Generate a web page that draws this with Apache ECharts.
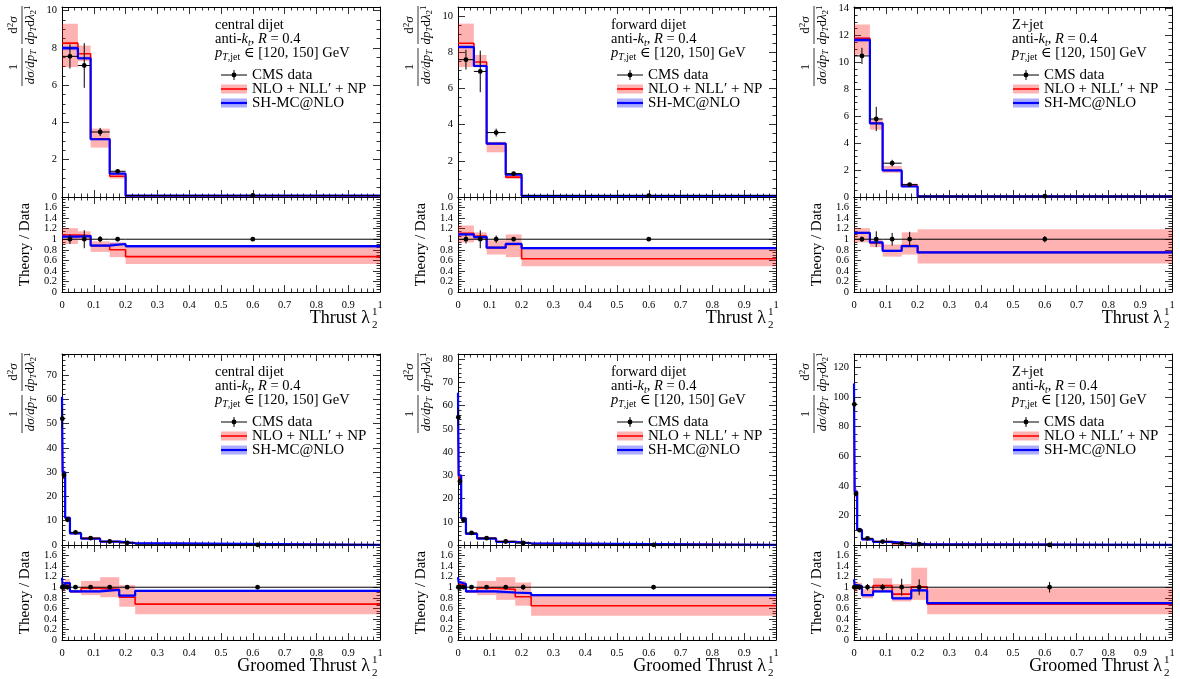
<!DOCTYPE html>
<html><head><meta charset="utf-8">
<script src="https://cdn.jsdelivr.net/npm/echarts@6/dist/echarts.min.js"></script>
<style>html,body{margin:0;padding:0;background:#fff}#c{width:1180px;height:679px}</style>
</head><body><div id="c"></div><script>
// ---------------- DATA ----------------
const thrustEdges  = [0, 0.05, 0.09, 0.15, 0.2, 1];
const groomedEdges = [0, 0.002, 0.01, 0.025, 0.06, 0.12, 0.18, 0.23, 1];

// central dijet, thrust
const cT_data   = [7.55, 7.06, 3.49, 1.38, 0.08];
const cT_err    = [0.65, 1.2, 0.22, 0.07, 0.004];
const cT_nlo    = [8.26, 7.69, 3.13, 1.11, 0.053];
const cT_nloLo  = [6.97, 7.29, 2.65, 0.99, 0.042];
const cT_nloHi  = [9.3, 8.13, 3.67, 1.34, 0.07];
const cT_mc     = [7.99, 7.45, 3.10, 1.25, 0.069];
const cT_mcLo   = [7.88, 7.37, 3.05, 1.22, 0.067];
const cT_mcHi   = [8.10, 7.53, 3.15, 1.28, 0.071];
const cT_rNlo   = [1.08, 1.07, 0.88, 0.80, 0.67];
const cT_rNloLo = [0.91, 0.98, 0.76, 0.66, 0.53];
const cT_rNloHi = [1.21, 1.15, 0.96, 0.94, 0.88];
const cT_rMc    = [1.05, 1.06, 0.88, 0.91, 0.87];
const cT_rMcLo  = [1.03, 1.04, 0.86, 0.89, 0.84];
const cT_rMcHi  = [1.07, 1.08, 0.90, 0.93, 0.89];
const cT_rErr   = [0.09, 0.17, 0.06, 0.04, 0.02];

// forward dijet, thrust
const fT_data   = [7.59, 6.94, 3.56, 1.29, 0.08];
const fT_err    = [0.55, 1.15, 0.22, 0.06, 0.004];
const fT_nlo    = [8.5, 7.46, 2.95, 1.10, 0.05];
const fT_nloLo  = [7.18, 7.2, 2.47, 1.0, 0.039];
const fT_nloHi  = [9.58, 7.85, 3.05, 1.25, 0.066];
const fT_mc     = [8.29, 7.24, 2.95, 1.24, 0.066];
const fT_mcLo   = [8.2, 7.17, 2.9, 1.21, 0.064];
const fT_mcHi   = [8.38, 7.31, 3.0, 1.27, 0.068];
const fT_rNlo   = [1.11, 1.06, 0.84, 0.90, 0.63];
const fT_rNloLo = [0.94, 0.98, 0.71, 0.66, 0.49];
const fT_rNloHi = [1.26, 1.13, 0.98, 1.09, 0.82];
const fT_rMc    = [1.09, 1.04, 0.84, 0.91, 0.83];
const fT_rMcLo  = [1.07, 1.02, 0.82, 0.89, 0.81];
const fT_rMcHi  = [1.11, 1.06, 0.86, 0.93, 0.85];
const fT_rErr   = [0.08, 0.17, 0.07, 0.04, 0.02];

// Z+jet, thrust
const zT_data   = [10.47, 5.79, 2.51, 0.92, 0.06];
const zT_err    = [0.6, 0.9, 0.25, 0.07, 0.004];
const zT_nlo    = [11.78, 5.47, 1.97, 0.81, 0.045];
const zT_nloLo  = [10.55, 5.0, 1.8, 0.73, 0.032];
const zT_nloHi  = [12.8, 5.8, 2.3, 1.0, 0.071];
const zT_mc     = [11.66, 5.47, 1.97, 0.78, 0.045];
const zT_mcLo   = [11.5, 5.4, 1.93, 0.76, 0.043];
const zT_mcHi   = [11.85, 5.54, 2.01, 0.80, 0.047];
const zT_rNlo   = [1.12, 0.93, 0.78, 0.88, 0.75];
const zT_rNloLo = [0.94, 0.85, 0.67, 0.71, 0.54];
const zT_rNloHi = [1.21, 1.0, 0.9, 1.13, 1.19];
const zT_rMc    = [1.12, 0.94, 0.78, 0.87, 0.75];
const zT_rMcLo  = [1.10, 0.92, 0.76, 0.85, 0.73];
const zT_rMcHi  = [1.14, 0.96, 0.80, 0.89, 0.77];
const zT_rErr   = [0.05, 0.15, 0.12, 0.14, 0.06];

// central dijet, groomed thrust
const cG_data   = [52, 28.8, 10.4, 5.2, 2.8, 1.45, 0.88, 0.08];
const cG_err    = [4, 1.6, 0.45, 0.15, 0.08, 0.05, 0.03, 0.004];
const cG_nlo    = [54, 28.8, 11.0, 4.8, 2.74, 1.39, 0.71, 0.055];
const cG_nloLo  = [48, 26.8, 10.0, 4.63, 2.38, 1.17, 0.55, 0.04];
const cG_nloHi  = [57, 31.1, 12.0, 4.95, 3.14, 1.73, 0.92, 0.074];
const cG_mc     = [61, 29.9, 11.2, 4.8, 2.58, 1.38, 0.74, 0.074];
const cG_mcLo   = [60, 29.3, 11.0, 4.7, 2.53, 1.35, 0.72, 0.072];
const cG_mcHi   = [62, 30.5, 11.4, 4.9, 2.63, 1.41, 0.76, 0.076];
const cG_rNlo   = [1.03, 1.0, 1.06, 0.92, 0.98, 0.96, 0.81, 0.68];
const cG_rNloLo = [0.92, 0.93, 0.96, 0.89, 0.85, 0.81, 0.63, 0.49];
const cG_rNloHi = [1.1, 1.08, 1.15, 0.95, 1.12, 1.19, 1.04, 0.92];
const cG_rMc    = [1.18, 1.04, 1.08, 0.92, 0.92, 0.95, 0.84, 0.93];
const cG_rMcLo  = [1.16, 1.02, 1.06, 0.90, 0.90, 0.93, 0.82, 0.91];
const cG_rMcHi  = [1.20, 1.06, 1.10, 0.94, 0.94, 0.97, 0.86, 0.95];
const cG_rErr   = [0.08, 0.05, 0.04, 0.03, 0.03, 0.03, 0.03, 0.04];

// forward dijet, groomed thrust
const fG_data   = [55, 27.4, 10.8, 5.2, 2.95, 1.5, 0.85, 0.08];
const fG_err    = [4, 1.6, 0.45, 0.15, 0.08, 0.05, 0.05, 0.004];
const fG_nlo    = [57.8, 28.8, 11.4, 4.8, 2.9, 1.44, 0.70, 0.052];
const fG_nloLo  = [51, 26.3, 10.6, 4.63, 2.5, 1.14, 0.55, 0.037];
const fG_nloHi  = [61.6, 30.7, 12.1, 4.95, 3.3, 1.79, 0.93, 0.07];
const fG_mc     = [65.5, 29.9, 11.5, 4.8, 2.71, 1.35, 0.76, 0.068];
const fG_mcLo   = [64.4, 29.3, 11.3, 4.7, 2.66, 1.32, 0.74, 0.066];
const fG_mcHi   = [66.6, 30.5, 11.7, 4.9, 2.76, 1.38, 0.78, 0.070];
const fG_rNlo   = [1.05, 1.05, 1.06, 0.92, 0.98, 0.96, 0.82, 0.65];
const fG_rNloLo = [0.93, 0.96, 0.98, 0.89, 0.85, 0.76, 0.65, 0.46];
const fG_rNloHi = [1.12, 1.12, 1.12, 0.95, 1.12, 1.19, 1.09, 0.87];
const fG_rMc    = [1.19, 1.09, 1.06, 0.92, 0.92, 0.90, 0.89, 0.85];
const fG_rMcLo  = [1.17, 1.07, 1.04, 0.90, 0.90, 0.88, 0.87, 0.83];
const fG_rMcHi  = [1.21, 1.11, 1.08, 0.94, 0.94, 0.92, 0.91, 0.87];
const fG_rErr   = [0.08, 0.05, 0.04, 0.03, 0.03, 0.03, 0.05, 0.04];

// Z+jet, groomed thrust
const zG_data   = [95, 34.6, 10.0, 4.5, 2.3, 1.1, 0.6, 0.07];
const zG_err    = [5, 1.5, 0.5, 0.27, 0.14, 0.17, 0.09, 0.007];
const zG_nlo    = [98, 35.3, 10.2, 3.8, 2.37, 0.96, 0.61, 0.048];
const zG_nloLo  = [86, 31.8, 9.5, 3.55, 2.1, 0.80, 0.46, 0.034];
const zG_nloHi  = [106, 38.1, 10.8, 4.3, 2.7, 1.17, 0.82, 0.069];
const zG_mc     = [109, 36, 10.2, 3.8, 2.1, 0.87, 0.56, 0.049];
const zG_mcLo   = [107, 35.3, 10.0, 3.7, 2.05, 0.85, 0.55, 0.047];
const zG_mcHi   = [111, 36.7, 10.4, 3.9, 2.15, 0.89, 0.57, 0.051];
const zG_rNlo   = [1.03, 1.02, 1.02, 0.85, 1.03, 0.87, 1.01, 0.68];
const zG_rNloLo = [0.9, 0.92, 0.95, 0.79, 0.92, 0.73, 0.76, 0.49];
const zG_rNloHi = [1.12, 1.1, 1.08, 0.96, 1.17, 1.06, 1.37, 0.98];
const zG_rMc    = [1.15, 1.04, 1.02, 0.85, 0.92, 0.79, 0.94, 0.70];
const zG_rMcLo  = [1.13, 1.02, 1.0, 0.83, 0.90, 0.77, 0.92, 0.68];
const zG_rMcHi  = [1.17, 1.06, 1.04, 0.87, 0.94, 0.81, 0.96, 0.72];
const zG_rErr   = [0.05, 0.04, 0.05, 0.06, 0.06, 0.16, 0.15, 0.1];

const ratioRef = 1; // data / data

// axis ranges and tick settings
const mainYMax   = [10.2, 10.5, 14.1, 78.6, 82.2, 129];
const mainYStep  = [2, 2, 2, 10, 10, 20];
const mainYMinor = [4, 4, 4, 5, 5, 4];
const ratioYMax = 1.8, ratioYStep = 0.2;
const xMax = 1, xStep = 0.1;

const panelNames = ['central dijet', 'forward dijet', 'Z+jet', 'central dijet', 'forward dijet', 'Z+jet'];
const xTitles = ['Thrust λ', 'Thrust λ', 'Thrust λ', 'Groomed Thrust λ', 'Groomed Thrust λ', 'Groomed Thrust λ'];
const legendLabels = ['CMS data', 'NLO + NLL′ + NP', 'SH-MC@NLO'];

// ---------------- LAYOUT ----------------
const FONT = "'Liberation Serif', 'DejaVu Serif', serif";
const RED = '#ff0000', BLUE = '#0000ff';
const RED_BAND = 'rgba(255,0,0,0.3)', BLUE_BAND = 'rgba(0,0,255,0.32)';
const colLeft = [62, 458, 854];
const plotW = 318;
const rowGeo = [
  {mainTop: 7, mainH: 190, ratTop: 197, ratH: 95},
  {mainTop: 354, mainH: 191, ratTop: 545, ratH: 95}
];
const textDx = [153, 153, 158];

const panels = [
  {edges: thrustEdges, d: cT_data, e: cT_err, n: cT_nlo, nLo: cT_nloLo, nHi: cT_nloHi, m: cT_mc, mLo: cT_mcLo, mHi: cT_mcHi, rn: cT_rNlo, rnLo: cT_rNloLo, rnHi: cT_rNloHi, rm: cT_rMc, rmLo: cT_rMcLo, rmHi: cT_rMcHi, re: cT_rErr},
  {edges: thrustEdges, d: fT_data, e: fT_err, n: fT_nlo, nLo: fT_nloLo, nHi: fT_nloHi, m: fT_mc, mLo: fT_mcLo, mHi: fT_mcHi, rn: fT_rNlo, rnLo: fT_rNloLo, rnHi: fT_rNloHi, rm: fT_rMc, rmLo: fT_rMcLo, rmHi: fT_rMcHi, re: fT_rErr},
  {edges: thrustEdges, d: zT_data, e: zT_err, n: zT_nlo, nLo: zT_nloLo, nHi: zT_nloHi, m: zT_mc, mLo: zT_mcLo, mHi: zT_mcHi, rn: zT_rNlo, rnLo: zT_rNloLo, rnHi: zT_rNloHi, rm: zT_rMc, rmLo: zT_rMcLo, rmHi: zT_rMcHi, re: zT_rErr},
  {edges: groomedEdges, d: cG_data, e: cG_err, n: cG_nlo, nLo: cG_nloLo, nHi: cG_nloHi, m: cG_mc, mLo: cG_mcLo, mHi: cG_mcHi, rn: cG_rNlo, rnLo: cG_rNloLo, rnHi: cG_rNloHi, rm: cG_rMc, rmLo: cG_rMcLo, rmHi: cG_rMcHi, re: cG_rErr},
  {edges: groomedEdges, d: fG_data, e: fG_err, n: fG_nlo, nLo: fG_nloLo, nHi: fG_nloHi, m: fG_mc, mLo: fG_mcLo, mHi: fG_mcHi, rn: fG_rNlo, rnLo: fG_rNloLo, rnHi: fG_rNloHi, rm: fG_rMc, rmLo: fG_rMcLo, rmHi: fG_rMcHi, re: fG_rErr},
  {edges: groomedEdges, d: zG_data, e: zG_err, n: zG_nlo, nLo: zG_nloLo, nHi: zG_nloHi, m: zG_mc, mLo: zG_mcLo, mHi: zG_mcHi, rn: zG_rNlo, rnLo: zG_rNloLo, rnHi: zG_rNloHi, rm: zG_rMc, rmLo: zG_rMcLo, rmHi: zG_rMcHi, re: zG_rErr}
];

const grid = [], xAxis = [], yAxis = [], series = [], elements = [];
const tickFont = {color: '#000', fontFamily: FONT, fontSize: 10.5};

function xa(gi, pos, showLab) {
  return {type: 'value', gridIndex: gi, position: pos, min: 0, max: xMax, interval: xStep,
    axisLine: {show: true, onZero: false, lineStyle: {color: '#000', width: 1}},
    axisTick: {show: true, inside: true, length: 7, lineStyle: {color: '#000', width: 0.8}},
    minorTick: {show: true, splitNumber: 5, length: 3.5, lineStyle: {color: '#000', width: 0.8}},
    splitLine: {show: false}, minorSplitLine: {show: false},
    axisLabel: Object.assign({show: showLab, margin: 8, showMaxLabel: true, showMinLabel: true, hideOverlap: false,
      formatter: v => (Math.abs(v) < 1e-9 ? '0' : (Math.abs(v - 1) < 1e-9 ? '1' : v.toFixed(1)))}, tickFont)};
}
function ya(gi, pos, max, step, minor, showLab, ratio) {
  return {type: 'value', gridIndex: gi, position: pos, min: 0, max: max, interval: step,
    axisLine: {show: true, onZero: false, lineStyle: {color: '#000', width: 1}},
    axisTick: {show: true, inside: true, length: 7, lineStyle: {color: '#000', width: 0.8}},
    minorTick: {show: true, splitNumber: minor, length: 3.5, lineStyle: {color: '#000', width: 0.8}},
    splitLine: {show: false}, minorSplitLine: {show: false},
    axisLabel: Object.assign({show: showLab, margin: 5, showMaxLabel: false, showMinLabel: !ratio, hideOverlap: false,
      formatter: v => {
        const k = v / step;
        if (Math.abs(k - Math.round(k)) > 1e-6) return '';
        if (ratio) return v > 1.7 ? '' : String(+v.toFixed(1));
        return String(Math.round(v));
      }}, tickFont)};
}
// label-only axis carrying the "0" of a ratio panel (its neighbours sit too close for ECharts' overlap check)
function yaZero(gi, max) {
  return {type: 'value', gridIndex: gi, position: 'left', min: 0, max: max, interval: max,
    axisLine: {show: false}, axisTick: {show: false}, minorTick: {show: false},
    splitLine: {show: false}, minorSplitLine: {show: false},
    axisLabel: Object.assign({show: true, margin: 5, showMaxLabel: false, showMinLabel: true,
      formatter: v => (Math.abs(v) < 1e-9 ? '0' : '')}, tickFont)};
}
function stepPts(edges, vals) {
  const pts = [];
  vals.forEach((v, i) => { pts.push([edges[i], v]); pts.push([edges[i + 1], v]); });
  return pts;
}
function bandSeries(xi, yi, edges, lo, hi, color, z) {
  return {type: 'custom', xAxisIndex: xi, yAxisIndex: yi, z: z, animation: false, silent: true,
    data: lo.map((l, i) => [edges[i], edges[i + 1], l, hi[i]]),
    encode: {x: [0, 1], y: [2, 3]},
    renderItem: (params, api) => {
      const p0 = api.coord([api.value(0), api.value(3)]);
      const p1 = api.coord([api.value(1), api.value(2)]);
      return {type: 'rect', shape: {x: p0[0], y: p0[1], width: p1[0] - p0[0], height: p1[1] - p0[1]},
        style: {fill: color}};
    }};
}
function lineSeries(xi, yi, edges, vals, color, w, z) {
  return {type: 'line', xAxisIndex: xi, yAxisIndex: yi, z: z, animation: false, silent: true,
    data: stepPts(edges, vals), symbol: 'none', lineStyle: {color: color, width: w}};
}
function pointSeries(xi, yi, edges, vals, errs, z) {
  return {type: 'custom', xAxisIndex: xi, yAxisIndex: yi, z: z, animation: false, silent: true,
    data: vals.map((v, i) => [edges[i], edges[i + 1], v, errs[i]]),
    encode: {x: [0, 1], y: 2},
    renderItem: (params, api) => {
      const x0 = api.value(0), x1 = api.value(1), y = api.value(2), e = api.value(3);
      const xc = (x0 + x1) / 2;
      const a = api.coord([x0, y]), b = api.coord([x1, y]), c = api.coord([xc, y]);
      const t = api.coord([xc, y + e]), d = api.coord([xc, Math.max(0, y - e)]);
      return {type: 'group', children: [
        {type: 'line', shape: {x1: a[0], y1: a[1], x2: b[0], y2: b[1]}, style: {stroke: '#000', lineWidth: 1}},
        {type: 'line', shape: {x1: t[0], y1: t[1], x2: d[0], y2: d[1]}, style: {stroke: '#000', lineWidth: 1}},
        {type: 'circle', shape: {cx: c[0], cy: c[1], r: 2.4}, style: {fill: '#000'}}
      ]};
    }};
}

const rich = {
  n: {fontFamily: FONT, fontSize: 14.5, lineHeight: 18, color: '#000'},
  i: {fontFamily: FONT, fontSize: 14.5, lineHeight: 18, fontStyle: 'italic', color: '#000'},
  s: {fontFamily: FONT, fontSize: 10, lineHeight: 10, fontStyle: 'italic', verticalAlign: 'bottom', color: '#000'},
  sr: {fontFamily: FONT, fontSize: 10, lineHeight: 10, verticalAlign: 'bottom', color: '#000'}
};
const richY = {
  n: {fontFamily: FONT, fontSize: 13, lineHeight: 15, color: '#000'},
  i: {fontFamily: FONT, fontSize: 13, lineHeight: 15, fontStyle: 'italic', color: '#000'},
  s: {fontFamily: FONT, fontSize: 9, lineHeight: 9, fontStyle: 'italic', verticalAlign: 'bottom', color: '#000'},
  sr: {fontFamily: FONT, fontSize: 9, lineHeight: 9, verticalAlign: 'bottom', color: '#000'},
  sp: {fontFamily: FONT, fontSize: 9, lineHeight: 9, verticalAlign: 'top', color: '#000'}
};

panels.forEach((P, p) => {
  const r = Math.floor(p / 3), c = p % 3;
  const G = rowGeo[r], L = colLeft[c];
  // main grid
  const gM = grid.length;
  grid.push({left: L, top: G.mainTop, width: plotW, height: G.mainH, containLabel: false});
  const xM = xAxis.length; xAxis.push(xa(gM, 'bottom', false), xa(gM, 'top', false));
  const yM = yAxis.length; yAxis.push(ya(gM, 'left', mainYMax[p], mainYStep[p], mainYMinor[p], true, false),
                                       ya(gM, 'right', mainYMax[p], mainYStep[p], mainYMinor[p], false, false));
  series.push(bandSeries(xM, yM, P.edges, P.nLo, P.nHi, RED_BAND, 1));
  series.push(bandSeries(xM, yM, P.edges, P.mLo, P.mHi, BLUE_BAND, 2));
  series.push(lineSeries(xM, yM, P.edges, P.n, RED, 1.6, 3));
  series.push(lineSeries(xM, yM, P.edges, P.m, BLUE, 2.2, 4));
  series.push(pointSeries(xM, yM, P.edges, P.d, P.e, 5));
  // ratio grid
  const gR = grid.length;
  grid.push({left: L, top: G.ratTop, width: plotW, height: G.ratH, containLabel: false});
  const xR = xAxis.length; xAxis.push(xa(gR, 'bottom', true), xa(gR, 'top', false));
  const yR = yAxis.length; yAxis.push(ya(gR, 'left', ratioYMax, ratioYStep, 4, true, true),
                                       ya(gR, 'right', ratioYMax, ratioYStep, 4, false, true),
                                       yaZero(gR, ratioYMax));
  series.push(bandSeries(xR, yR, P.edges, P.rnLo, P.rnHi, RED_BAND, 1));
  series.push(bandSeries(xR, yR, P.edges, P.rmLo, P.rmHi, BLUE_BAND, 2));
  series.push(lineSeries(xR, yR, P.edges, P.rn, RED, 1.6, 3));
  series.push(lineSeries(xR, yR, P.edges, P.rm, BLUE, 2.2, 4));
  series.push(pointSeries(xR, yR, P.edges, P.d.map(() => ratioRef), P.re, 5));

  // annotation text
  const T = G.mainTop, tx = L + textDx[c];
  elements.push({type: 'text', x: tx, y: T + 18, style: {text: '{n|' + panelNames[p] + '}', rich: rich, align: 'left', verticalAlign: 'middle'}});
  elements.push({type: 'text', x: tx, y: T + 32, style: {text: '{n|anti-}{i|k}{s|t}{n|, }{i|R}{n| = 0.4}', rich: rich, align: 'left', verticalAlign: 'middle'}});
  elements.push({type: 'text', x: tx, y: T + 46.5, style: {text: '{i|p}{s|T}{sr|,jet}{n| ∈ [120, 150] GeV}', rich: rich, align: 'left', verticalAlign: 'middle'}});
  // legend
  const lx0 = L + 159, lx1 = L + 185, ltx = L + 190;
  const ly = [T + 68, T + 82, T + 96];
  elements.push({type: 'line', shape: {x1: lx0, y1: ly[0], x2: lx1, y2: ly[0]}, style: {stroke: '#000', lineWidth: 1}});
  elements.push({type: 'line', shape: {x1: (lx0 + lx1) / 2, y1: ly[0] - 5, x2: (lx0 + lx1) / 2, y2: ly[0] + 5}, style: {stroke: '#000', lineWidth: 1}});
  elements.push({type: 'circle', shape: {cx: (lx0 + lx1) / 2, cy: ly[0], r: 2.4}, style: {fill: '#000'}});
  elements.push({type: 'rect', shape: {x: lx0, y: ly[1] - 4.5, width: lx1 - lx0, height: 9}, style: {fill: RED_BAND}});
  elements.push({type: 'line', shape: {x1: lx0, y1: ly[1], x2: lx1, y2: ly[1]}, style: {stroke: RED, lineWidth: 1.6}});
  elements.push({type: 'rect', shape: {x: lx0, y: ly[2] - 4.5, width: lx1 - lx0, height: 9}, style: {fill: BLUE_BAND}});
  elements.push({type: 'line', shape: {x1: lx0, y1: ly[2], x2: lx1, y2: ly[2]}, style: {stroke: BLUE, lineWidth: 2.2}});
  legendLabels.forEach((lab, k) => {
    elements.push({type: 'text', x: ltx, y: ly[k], style: {text: lab, fontFamily: FONT, fontSize: 15, fill: '#000', align: 'left', verticalAlign: 'middle'}});
  });
  // y-axis title (main): 1/(dσ/dpT) d²σ/(dpT dλ)
  elements.push({type: 'group', x: L - 40, y: T + 79, rotation: Math.PI / 2, children: [
    {type: 'line', shape: {x1: 0, y1: 0, x2: 38, y2: 0}, style: {stroke: '#000', lineWidth: 0.8}},
    {type: 'text', x: 19, y: -1, style: {text: '{n|1}', rich: richY, align: 'center', verticalAlign: 'bottom'}},
    {type: 'text', x: 19, y: 1, style: {text: '{i|dσ/dp}{s|T}', rich: richY, align: 'center', verticalAlign: 'top'}},
    {type: 'line', shape: {x1: 42, y1: 0, x2: 80, y2: 0}, style: {stroke: '#000', lineWidth: 0.8}},
    {type: 'text', x: 61, y: -1, style: {text: '{n|d}{sp|2}{i|σ}', rich: richY, align: 'center', verticalAlign: 'bottom'}},
    {type: 'text', x: 61, y: 1, style: {text: '{i|dp}{s|T}{n|d}{i|λ}{sr|2}{sp|1}', rich: richY, align: 'center', verticalAlign: 'top'}}
  ]});
  // ratio y title
  elements.push({type: 'text', x: L - 37, y: G.ratTop + G.ratH / 2, rotation: Math.PI / 2,
    style: {text: 'Theory / Data', fontFamily: FONT, fontSize: 15, fill: '#000', align: 'center', verticalAlign: 'middle'}});
  // x title
  const ty = G.ratTop + G.ratH + 26;
  elements.push({type: 'text', x: L + 308, y: ty, style: {text: xTitles[p], fontFamily: FONT, fontSize: 18, fill: '#000', align: 'right', verticalAlign: 'middle'}});
  elements.push({type: 'text', x: L + 310, y: ty - 6, style: {text: '1', fontFamily: FONT, fontSize: 11, fill: '#000', align: 'left', verticalAlign: 'middle'}});
  elements.push({type: 'text', x: L + 310, y: ty + 7, style: {text: '2', fontFamily: FONT, fontSize: 11, fill: '#000', align: 'left', verticalAlign: 'middle'}});
});

const chart = echarts.init(document.getElementById('c'), null, {renderer: 'canvas'});
chart.setOption({
  animation: false,
  backgroundColor: '#fff',
  grid: grid, xAxis: xAxis, yAxis: yAxis, series: series,
  graphic: {elements: elements}
});
</script></body></html>
